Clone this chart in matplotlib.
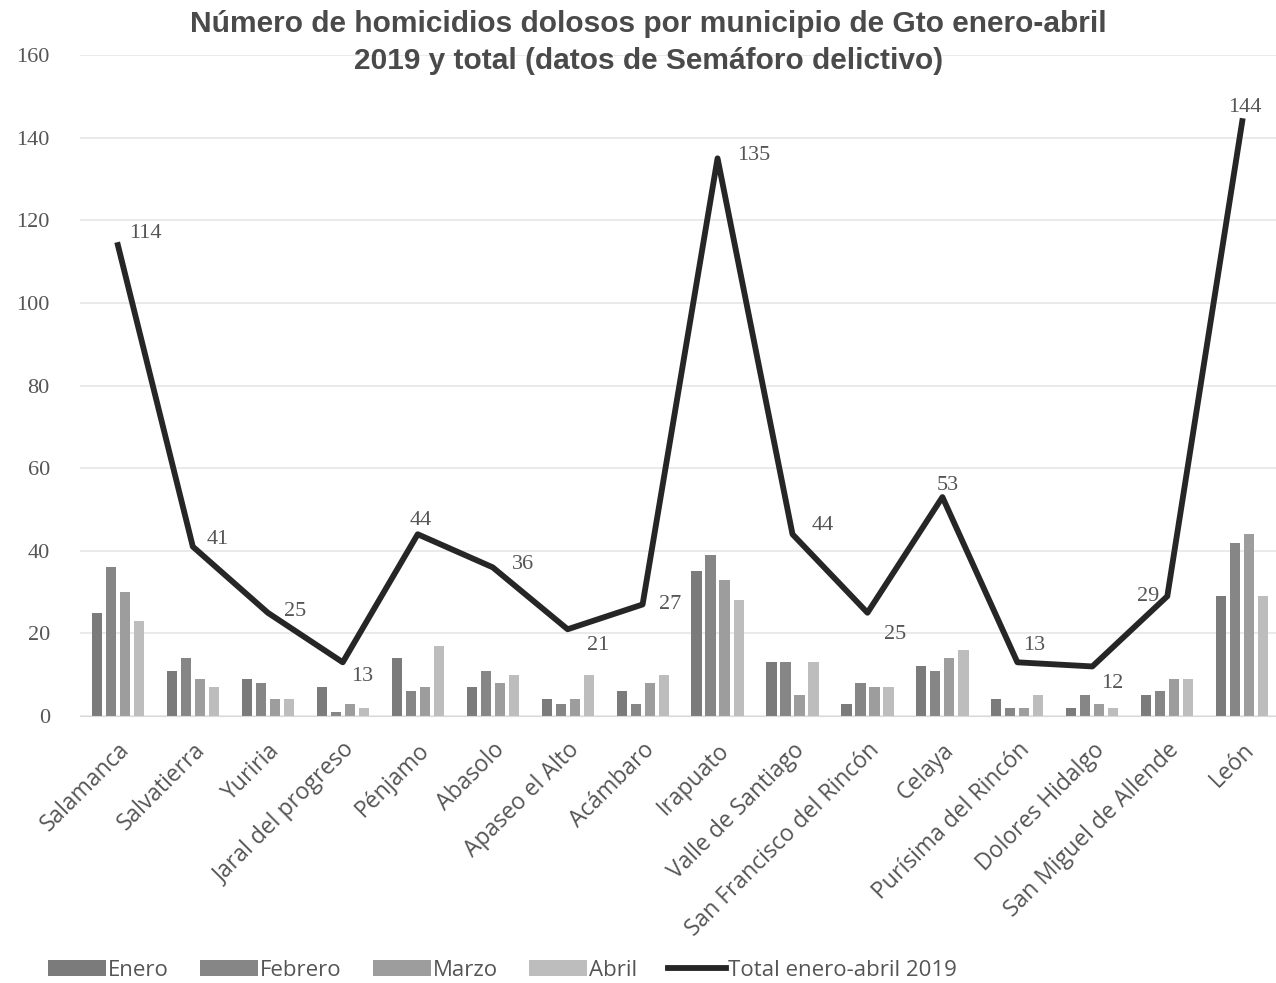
import matplotlib.pyplot as plt
import numpy as np

municipios = ["Salamanca", "Salvatierra", "Yuriria", "Jaral del progreso", "Pénjamo",
              "Abasolo", "Apaseo el Alto", "Acámbaro", "Irapuato", "Valle de Santiago",
              "San Francisco del Rincón", "Celaya", "Purísima del Rincón",
              "Dolores Hidalgo", "San Miguel de Allende", "León"]
enero = [25, 11, 9, 7, 14, 7, 4, 6, 35, 13, 3, 12, 4, 2, 5, 29]
febrero = [36, 14, 8, 1, 6, 11, 3, 3, 39, 13, 8, 11, 2, 5, 6, 42]
marzo = [30, 9, 4, 3, 7, 8, 4, 8, 33, 5, 7, 14, 2, 3, 9, 44]
abril = [23, 7, 4, 2, 17, 10, 10, 10, 28, 13, 7, 16, 5, 2, 9, 29]
total = [114, 41, 25, 13, 44, 36, 21, 27, 135, 44, 25, 53, 13, 12, 29, 144]

# desplazamiento de cada etiqueta (puntos)
labelOffsets = [(8, 8), (10, 5), (12, 1), (6, -10), (-6, 10), (14, 2), (14, -12), (12, 0),
                (14, 2), (14, 6), (12, -16), (-4, 8), (4, 12), (6, -12), (-22, 0), (-10, 10)]

fig = plt.figure(figsize=(12.76, 9.83), dpi=100)
ax = fig.add_axes([0.063, 0.2716, 0.937, 0.6724])

x = np.arange(len(municipios))
slot = 0.187
w = 0.135
colors = ["#7b7b7b", "#868686", "#9d9d9d", "#bdbdbd"]
names = ["Enero", "Febrero", "Marzo", "Abril"]
for i, serie in enumerate([enero, febrero, marzo, abril]):
    ax.bar(x + (i - 1.5) * slot, serie, width=w, color=colors[i], label=names[i], zorder=2)

ax.plot(x, total, color="#262626", linewidth=4.2, label="Total enero-abril 2019", zorder=3)
for xi, v, off in zip(x, total, labelOffsets):
    ax.annotate(str(v), (xi, v), xytext=off, textcoords="offset points",
                ha="left", va="center", fontsize=16, family="Liberation Serif",
                color="#555555", zorder=4)

ax.set_xlim(-0.5, 15.45)
ax.set_ylim(0, 160)
ax.set_yticks(range(0, 161, 20))
ax.yaxis.grid(True, color="#e6e6e6", linewidth=1.2, zorder=0)
ax.set_axisbelow(True)
for s in ["top", "right", "left"]:
    ax.spines[s].set_visible(False)
ax.spines["bottom"].set_color("#d9d9d9")
ax.tick_params(axis="both", length=0)
ax.tick_params(axis="y", pad=22)
for lab in ax.get_yticklabels():
    lab.set_fontfamily("Liberation Serif")
    lab.set_fontsize(16)
    lab.set_color("#555555")
    lab.set_ha("right")
ax.set_xticks(x)
ax.set_xticklabels(municipios, rotation=45, ha="right", rotation_mode="anchor",
                   fontsize=16.5, color="#555555", family="Open Sans")
ax.tick_params(axis="x", pad=16)

fig.text(0.508, 0.976, "Número de homicidios dolosos por municipio de Gto enero-abril",
         ha="center", va="center", fontsize=21.5, color="#4a4a4a", family="Liberation Sans",
         weight="bold")
fig.text(0.508, 0.938, "2019 y total (datos de Semáforo delictivo)",
         ha="center", va="center", fontsize=21.5, color="#4a4a4a", family="Liberation Sans",
         weight="bold")

handles, labels = ax.get_legend_handles_labels()
handles = handles[1:] + handles[:1]
labels = labels[1:] + labels[:1]
leg = fig.legend(handles, labels, loc="lower left", bbox_to_anchor=(0.022, -0.018), ncol=5,
                 frameon=False, handlelength=2.6, handletextpad=0.1, columnspacing=1.4,
                 prop={"family": "Open Sans", "size": 16})
for t in leg.get_texts():
    t.set_color("#555555")

fig.savefig("out.png", dpi=100)
